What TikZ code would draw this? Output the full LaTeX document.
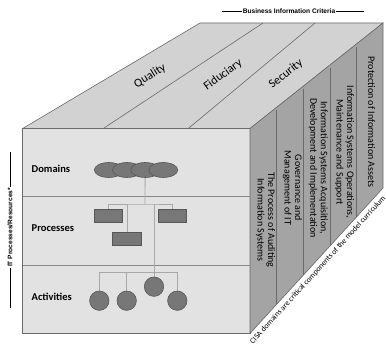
\documentclass[tikz,border=0pt]{standalone}
\usepackage{fontspec}
\setmainfont{Carlito}
\newfontfamily\arialf{Liberation Sans}
\usetikzlibrary{shapes.geometric,calc}
\pgfdeclarelayer{bglayer}
\pgfdeclarelayer{midlayer}
\pgfsetlayers{bglayer,midlayer,main}
\definecolor{frontc}{HTML}{E2E2E2}
\definecolor{topc}{HTML}{D2D2D2}
\definecolor{sidec}{HTML}{A4A4A4}
\definecolor{edgec}{HTML}{6A6A6A}
\definecolor{shapefill}{HTML}{777777}
\definecolor{shapedraw}{HTML}{575757}
\definecolor{linkc}{HTML}{A8A8A8}
\begin{document}
\begin{tikzpicture}[x=1pt,y=-1pt,
  face/.style={draw=edgec,line width=0.6pt},
  topdiv/.style={draw=edgec,line width=0.6pt},
  frontdiv/.style={draw=edgec!80,line width=1pt},
  sidediv/.style={draw=edgec,line width=0.6pt},
  coltext/.style={rotate=-90,align=center,inner sep=0pt,font=\fontsize{10}{10.6}\selectfont},
  toplabel/.style={font=\fontsize{12}{14}\selectfont,inner sep=0pt},
  rowlabel/.style={anchor=west,font=\bfseries\fontsize{10.5}{12}\selectfont,inner sep=0pt},
  dom/.style={ellipse,draw=shapedraw,fill=shapefill,line width=0.6pt,minimum width=29pt,minimum height=15pt,inner sep=0pt},
  proc/.style={rectangle,draw=shapedraw,fill=shapefill,line width=0.6pt,minimum width=28.4pt,minimum height=13.7pt,inner sep=0pt},
  act/.style={circle,draw=shapedraw,fill=shapefill,line width=0.6pt,minimum size=19.4pt,inner sep=0pt},
  link/.style={draw=linkc,line width=0.8pt},
  tiny/.style={font=\arialf\bfseries\fontsize{6.6}{7}\selectfont,inner sep=1pt},
  rule/.style={draw=black,line width=0.9pt}
]
\useasboundingbox (0,0) rectangle (386,347);

% box corners
\coordinate (FTL) at (22.7,128.5);
\coordinate (FTR) at (250,128.5);
\coordinate (FBR) at (250,333.5);
\coordinate (BTL) at (200,23);
\coordinate (BTR) at (383,23);
\coordinate (BBR) at (383,188);

\begin{pgfonlayer}{bglayer}
\fill[white] (0,0) rectangle (386,347);
% faces
\filldraw[face,fill=topc] (FTL) -- (BTL) -- (BTR) -- (FTR) -- cycle;
\filldraw[face,fill=frontc] (FTL) rectangle (FBR);
\filldraw[face,fill=sidec] (FTR) -- (BTR) -- (BBR) -- (FBR) -- cycle;

% top face dividers
\coordinate (q1) at (103.3,128.5);
\coordinate (q2) at (263,23);
\coordinate (q3) at (188.3,128.5);
\coordinate (q4) at (315,23);
\draw[topdiv] (q1) -- (q2);
\draw[topdiv] (q3) -- (q4);

% side face dividers
\foreach \f in {0.2,0.4,0.6,0.8}{
  \draw[sidediv] ($(FTR)!\f!(BTR)+(0,3)$) -- ($(FBR)!\f!(BBR)$);
}
\end{pgfonlayer}

% front face dividers
\coordinate (r1) at (22.7,197);
\coordinate (r2) at (250,197);
\coordinate (r3) at (22.7,266);
\coordinate (r4) at (250,266);
\begin{pgfonlayer}{midlayer}
\draw[frontdiv] (r1) -- (r2);
\draw[frontdiv] (r3) -- (r4);
\end{pgfonlayer}

% top labels
\node[toplabel,rotate=32] (quality) at (150,76) {Quality};
\node[toplabel,rotate=36] (fiduciary) at (223,75) {Fiduciary};
\node[toplabel,rotate=38] (security) at (286,74) {Security};

% side column texts
\node[coltext] (col1) at (265.5,220) {The Process of Auditing\\Information Systems};
\node[coltext] (col2) at (292.5,188) {Governance and\\Management of IT};
\node[coltext] (col3) at (318.3,168) {Information Systems Acquisition,\\Development and Implementation};
\node[coltext] (col4) at (344.5,152) {Information Systems Operations,\\Maintenance and Support};
\node[coltext] (col5) at (371.5,122) {Protection of Information Assets};

% row labels
\node[rowlabel] (ldom) at (31.5,169) {Domains};
\node[rowlabel] (lproc) at (31.5,228) {Processes};
\node[rowlabel] (lact) at (31.5,297) {Activities};

\coordinate (j1) at (145,204);
\coordinate (j2) at (154,272.7);

% domains
\node[dom] (e1) at (108.8,170) {};
\node[dom] (e2) at (127,170) {};
\node[dom] (e3) at (145.2,170) {};
\node[dom] (e4) at (163.3,170) {};

% processes
\node[proc] (p1) at (108.5,215.8) {};
\node[proc] (p2) at (172.5,215.8) {};
\node[proc] (p3) at (126.9,238.7) {};

% activities
\node[act] (a1) at (99.3,300.7) {};
\node[act] (a2) at (126.7,300.7) {};
\node[act] (a3) at (154,286.7) {};
\node[act] (a4) at (177.3,300.7) {};

% connectors, under the shapes
\begin{pgfonlayer}{midlayer}
\draw[link] (e3.center) -- (j1);
\draw[link] (p1.center) |- (j1) -| (p2.center);
\draw[link] (p3.center) -- (p3.center |- j1);
\draw[link] (a3.center |- j1) -- (a3.center);
\draw[link] (a1.center) |- (j2) -| (a4.center);
\draw[link] (a2.center) -- (a2.center |- j2);
\end{pgfonlayer}

% left label
\node[tiny,rotate=90] (itlbl) at (10,227.5) {IT Processes/Resources*};
\coordinate (itt) at (10,152);
\coordinate (itb) at (10,308);
\draw[rule] (itb) -- (itlbl.west);
\draw[rule] (itlbl.east) -- (itt);

% top label
\node[tiny] (bic) at (289,11) {Business Information Criteria};
\coordinate (bl) at (222,11);
\coordinate (br) at (364,11);
\draw[rule] (bl) -- (bic.west);
\draw[rule] (bic.east) -- (br);

% bottom diagonal caption
\node[anchor=base west,rotate=47.7,inner sep=0pt,font=\fontsize{7.8}{8.5}\selectfont] (cisa) at (253,344.5) {CISA domains are critical components of the model curriculum};
\end{tikzpicture}
\end{document}
